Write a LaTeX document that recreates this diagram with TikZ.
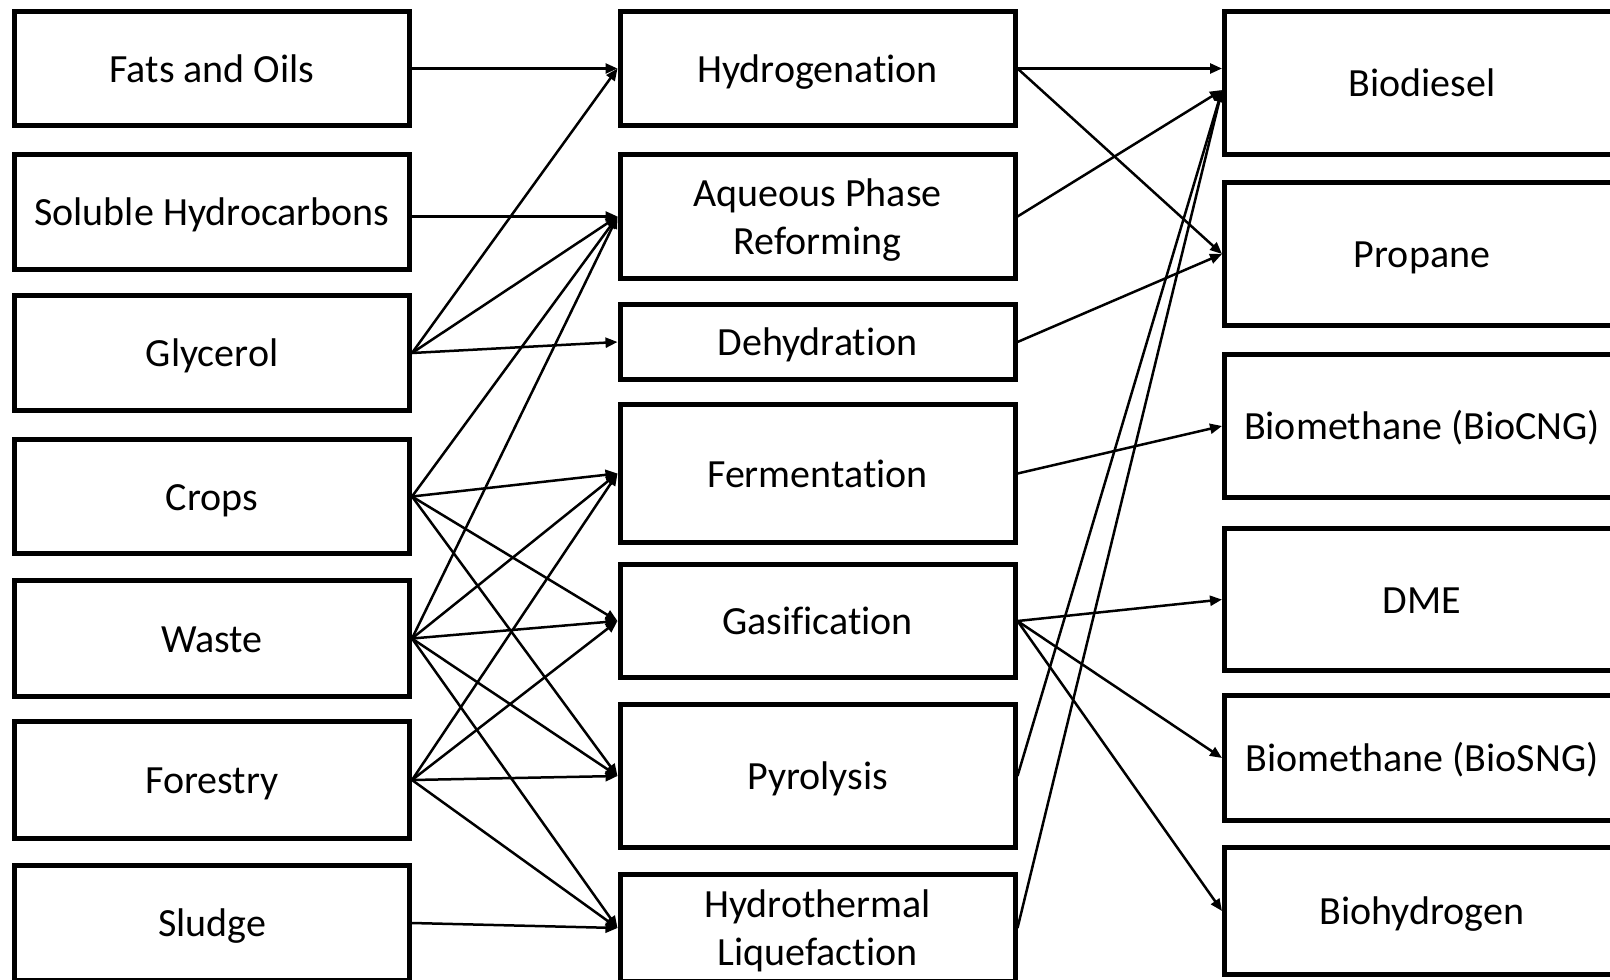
\documentclass[tikz,border=0pt]{standalone}
\usepackage{fontspec}
\setmainfont{Carlito}[Ligatures=NoCommon]
\usetikzlibrary{arrows.meta}
\begin{document}
\begin{tikzpicture}[x=0.5pt,y=-0.5pt,
  box/.style={draw=black, line width=2.5pt, minimum width=197.5pt, inner sep=0pt,
    align=center, font=\fontsize{20}{24}\selectfont, text=black},
  one/.style={box, text height=13.6pt, text depth=0pt},
  two/.style={box, text depth=0pt},
  conn/.style={draw=black, line width=1.25pt, -{Triangle[length=6pt,width=5pt]}}]
\useasboundingbox (0,0) rectangle (1610,979);
% left column
\node[one, minimum height=57pt]   (fats) at (212,68.5) {Fats and Oils};
\node[one, minimum height=57.5pt] (sol)  at (212,212)  {Soluble Hydrocarbons};
\node[one, minimum height=57.5pt] (gly)  at (212,353)  {Glycerol};
\node[one, minimum height=57pt]   (crop) at (212,496.5) {Crops};
\node[one, minimum height=58pt]   (wast) at (212,638.5) {Waste};
\node[one, minimum height=58.5pt] (fore) at (212,780)  {Forestry};
\node[one, minimum height=57.5pt] (slud) at (212,923)  {Sludge};
% middle column
\node[one, minimum height=57pt]   (hyd)  at (817.5,68.5) {Hydrogenation};
\node[two, minimum height=62pt]   (aq)   at (817.5,216.5) {Aqueous Phase\\Reforming};
\node[one, minimum height=37.5pt] (deh)  at (817.5,342) {Dehydration};
\node[one, minimum height=69pt]   (ferm) at (817.5,473.5) {Fermentation};
\node[one, minimum height=56.5pt] (gas)  at (817.5,621) {Gasification};
\node[one, minimum height=71.5pt] (pyr)  at (817.5,776) {Pyrolysis};
\node[two, minimum height=53.5pt] (htl)  at (817.5,928) {Hydrothermal\\Liquefaction};
% right column
\node[one, minimum height=71.5pt] (bd)   at (1422,83) {Biodiesel};
\node[one, minimum height=71.5pt] (prop) at (1422,254) {Propane};
\node[one, minimum height=71.5pt] (cng)  at (1422,426) {Biomethane (BioCNG)};
\node[one, minimum height=71pt]   (dme)  at (1422,599.5) {DME};
\node[one, minimum height=62.5pt] (sng)  at (1422,758) {Biomethane (BioSNG)};
\node[one, minimum height=63.5pt] (bh)   at (1422,911) {Biohydrogen};
\coordinate (bdin) at ([yshift=-3.5pt]bd.west);
% left -> middle
\draw[conn] (fats.east) -- (hyd.west);
\draw[conn] (sol.east |- aq.west) -- (aq.west);
\draw[conn] (gly.east) -- (hyd.west);
\draw[conn] (gly.east) -- (aq.west);
\draw[conn] (gly.east) -- (deh.west);
\draw[conn] (crop.east) -- (aq.west);
\draw[conn] (crop.east) -- (ferm.west);
\draw[conn] (crop.east) -- (gas.west);
\draw[conn] (crop.east) -- (pyr.west);
\draw[conn] (wast.east) -- (aq.west);
\draw[conn] (wast.east) -- (ferm.west);
\draw[conn] (wast.east) -- (gas.west);
\draw[conn] (wast.east) -- (pyr.west);
\draw[conn] (wast.east) -- (htl.west);
\draw[conn] (fore.east) -- (ferm.west);
\draw[conn] (fore.east) -- (gas.west);
\draw[conn] (fore.east) -- (pyr.west);
\draw[conn] (fore.east) -- (htl.west);
\draw[conn] (slud.east) -- (htl.west);
% middle -> right
\draw[conn] (hyd.east) -- (hyd.east -| bd.west);
\draw[conn] (hyd.east) -- (prop.west);
\draw[conn] (aq.east) -- (bdin);
\draw[conn] (deh.east) -- (prop.west);
\draw[conn] (ferm.east) -- (cng.west);
\draw[conn] (gas.east) -- (dme.west);
\draw[conn] (gas.east) -- (sng.west);
\draw[conn] (gas.east) -- (bh.west);
\draw[conn] (pyr.east) -- (bdin);
\draw[conn] (htl.east) -- (bdin);
\end{tikzpicture}
\end{document}
